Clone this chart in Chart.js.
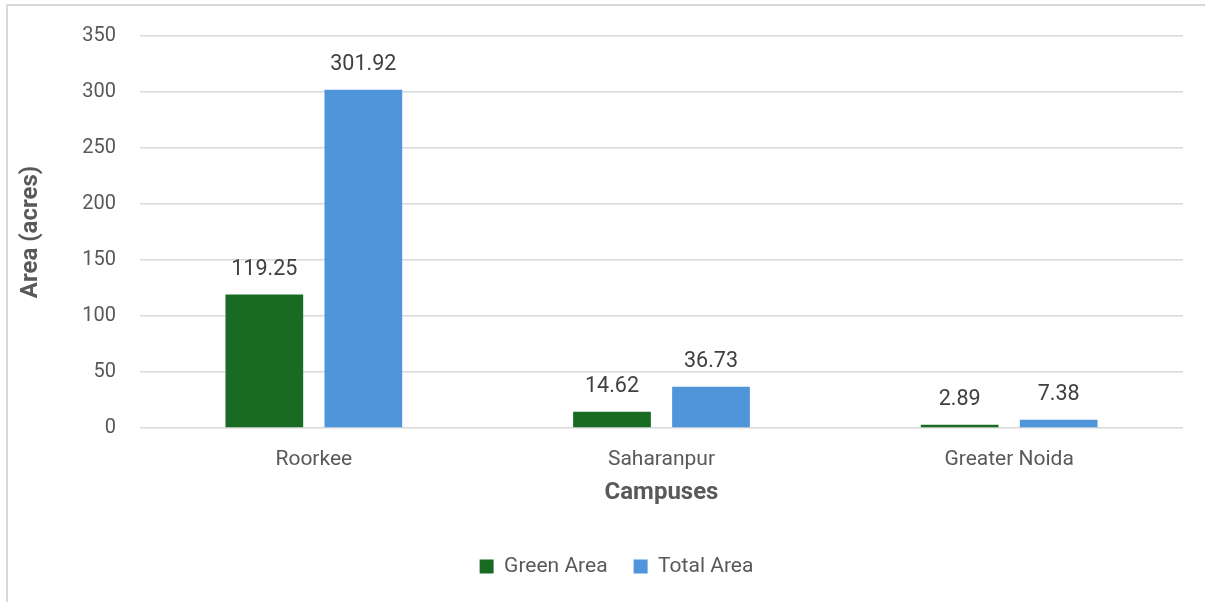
<!DOCTYPE html>
<html>
<head>
<meta charset="utf-8">
<script src="https://cdn.jsdelivr.net/npm/chart.js@4.4.1/dist/chart.umd.min.js"></script>
<style>
  html, body { margin: 0; padding: 0; background: #ffffff; overflow: hidden; }
  #wrap { position: relative; width: 1205px; height: 602px; }
  #frame { position: absolute; left: 6px; top: 4px; width: 1210px; height: 610px; border: 2px solid #d9d9d9; box-sizing: border-box; }
  canvas { position: absolute; left: 0; top: 0; }
</style>
</head>
<body>
<div id="wrap">
  <div id="frame"></div>
  <canvas id="c" width="1205" height="602"></canvas>
</div>
<script>
const categories = ["Roorkee", "Saharanpur", "Greater Noida"];
const greenArea = [119.25, 14.62, 2.89];
const totalArea = [301.92, 36.73, 7.38];
const seriesNames = ["Green Area", "Total Area"];
const yTicks = [0, 50, 100, 150, 200, 250, 300, 350];

const FONT = "Roboto, 'Liberation Sans', Arial, sans-serif";

const valueLabels = {
  id: 'valueLabels',
  afterDatasetsDraw(chart) {
    const ctx = chart.ctx;
    ctx.save();
    ctx.font = "21.5px " + FONT;
    ctx.fillStyle = "#404040";
    ctx.textAlign = "center";
    ctx.textBaseline = "middle";
    chart.data.datasets.forEach((ds, di) => {
      const meta = chart.getDatasetMeta(di);
      meta.data.forEach((el, i) => {
        ctx.fillText(ds.data[i].toFixed(2), el.x, el.y - 25);
      });
    });
    ctx.restore();
  }
};

new Chart(document.getElementById('c'), {
  type: 'bar',
  data: {
    labels: categories,
    datasets: [
      { label: seriesNames[0], data: greenArea, backgroundColor: '#196B24', categoryPercentage: 0.5695, barPercentage: 0.785 },
      { label: seriesNames[1], data: totalArea, backgroundColor: '#4E95D9', categoryPercentage: 0.5695, barPercentage: 0.785 }
    ]
  },
  options: {
    responsive: false,
    animation: false,
    layout: { padding: { left: 50, right: 22, top: 34, bottom: 15 } },
    plugins: {
      legend: {
        position: 'bottom',
        labels: {
          font: { family: FONT, size: 21 },
          color: '#595959',
          boxWidth: 14,
          boxHeight: 14,
          padding: 26
        }
      },
      tooltip: { enabled: false }
    },
    scales: {
      x: {
        grid: { display: false },
        border: { display: false },
        ticks: { font: { family: FONT, size: 21 }, color: '#595959', padding: 11 },
        title: { display: true, text: 'Campuses', font: { family: FONT, size: 24, weight: 'bold' }, color: '#595959', padding: { top: 0, bottom: 23 } },
        afterFit(scale) { scale.height = 102; }
      },
      y: {
        min: 0,
        max: 350,
        afterBuildTicks(scale) { scale.ticks = yTicks.map(v => ({ value: v })); },
        grid: { color: '#d9d9d9', lineWidth: 1.5, drawTicks: false },
        border: { display: false },
        ticks: { font: { family: FONT, size: 20 }, color: '#595959', padding: 24 },
        title: { display: true, text: 'Area (acres)', font: { family: FONT, size: 24, weight: 'bold' }, color: '#595959', padding: { top: -33, bottom: 0 } },
        afterFit(scale) { scale.width = 90; }
      }
    }
  },
  plugins: [valueLabels]
});
</script>
</body>
</html>
